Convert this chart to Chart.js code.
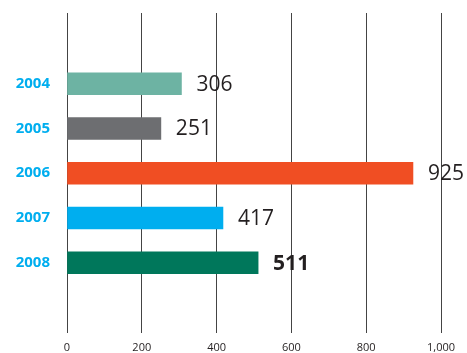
<!DOCTYPE html>
<html>
<head>
<meta charset="utf-8">
<script src="https://cdn.jsdelivr.net/npm/chart.js@4/dist/chart.umd.min.js"></script>
<style>
  html, body { margin: 0; padding: 0; background: #fff; }
  #wrap { width: 467px; height: 353px; }
</style>
</head>
<body>
<div id="wrap"><canvas id="chart"></canvas></div>
<script>
'use strict';

const years = ['2004', '2005', '2006', '2007', '2008'];
const counts = [306, 251, 925, 417, 511];
const xTickValues = [0, 200, 400, 600, 800, 1000];

const barColors = ['#6db3a3', '#6d6e71', '#f04e23', '#00aeef', '#00775b'];
const textColor = '#231f20';

// last year's number gets the heavy weight
const highlight = years.length - 1;

const valueLabels = {
  id: 'valueLabels',
  afterDatasetsDraw(chart) {
    let ctx = chart.ctx;
    let meta = chart.getDatasetMeta(0);
    ctx.save();
    ctx.fillStyle = textColor;
    ctx.textAlign = 'left';
    ctx.textBaseline = 'middle';
    meta.data.forEach(function (bar, i) {
      ctx.font = (i === highlight ? 'bold ' : '') + '21px "Open Sans", sans-serif';
      ctx.fillText(String(counts[i]), bar.x + 15, bar.y + 1);
    });
    ctx.restore();
  }
};

let points = counts.map(function (v, i) {
  return { x: v, y: i };
});

new Chart(document.getElementById('chart'), {
  type: 'bar',
  data: {
    datasets: [{
      data: points,
      backgroundColor: barColors,
      barThickness: 22
    }]
  },
  options: {
    indexAxis: 'y',
    animation: false,
    responsive: true,
    maintainAspectRatio: false,
    layout: { padding: { top: 13, right: 26, bottom: 0, left: 0 } },
    plugins: {
      legend: { display: false },
      tooltip: { enabled: false }
    },
    scales: {
      x: {
        type: 'linear',
        min: 0,
        max: 1000,
        afterBuildTicks: function (scale) {
          scale.ticks = xTickValues.map(function (v) { return { value: v }; });
        },
        afterFit: function (scale) {
          scale.height = 20;
          scale.paddingLeft = 0;
          scale.paddingRight = 0;
        },
        grid: { color: '#444', lineWidth: 1, drawTicks: false },
        border: { display: false },
        ticks: {
          padding: 8,
          color: textColor,
          font: { family: '"Open Sans", sans-serif', size: 11 },
          maxRotation: 0
        }
      },
      y: {
        type: 'linear',
        reverse: true,
        offset: false,
        min: -1.58,
        max: 5.57,
        afterBuildTicks: function (scale) {
          scale.ticks = years.map(function (_, i) { return { value: i }; });
        },
        afterFit: function (scale) {
          scale.width = 67;
          scale.paddingTop = 0;
          scale.paddingBottom = 0;
        },
        grid: { display: false, drawTicks: false, offset: false },
        border: { display: false },
        ticks: {
          padding: 17,
          color: '#00aeef',
          font: { family: '"Open Sans", sans-serif', size: 15, weight: 'bold' },
          callback: function (value) { return years[value]; }
        }
      }
    }
  },
  plugins: [valueLabels]
});
</script>
</body>
</html>
